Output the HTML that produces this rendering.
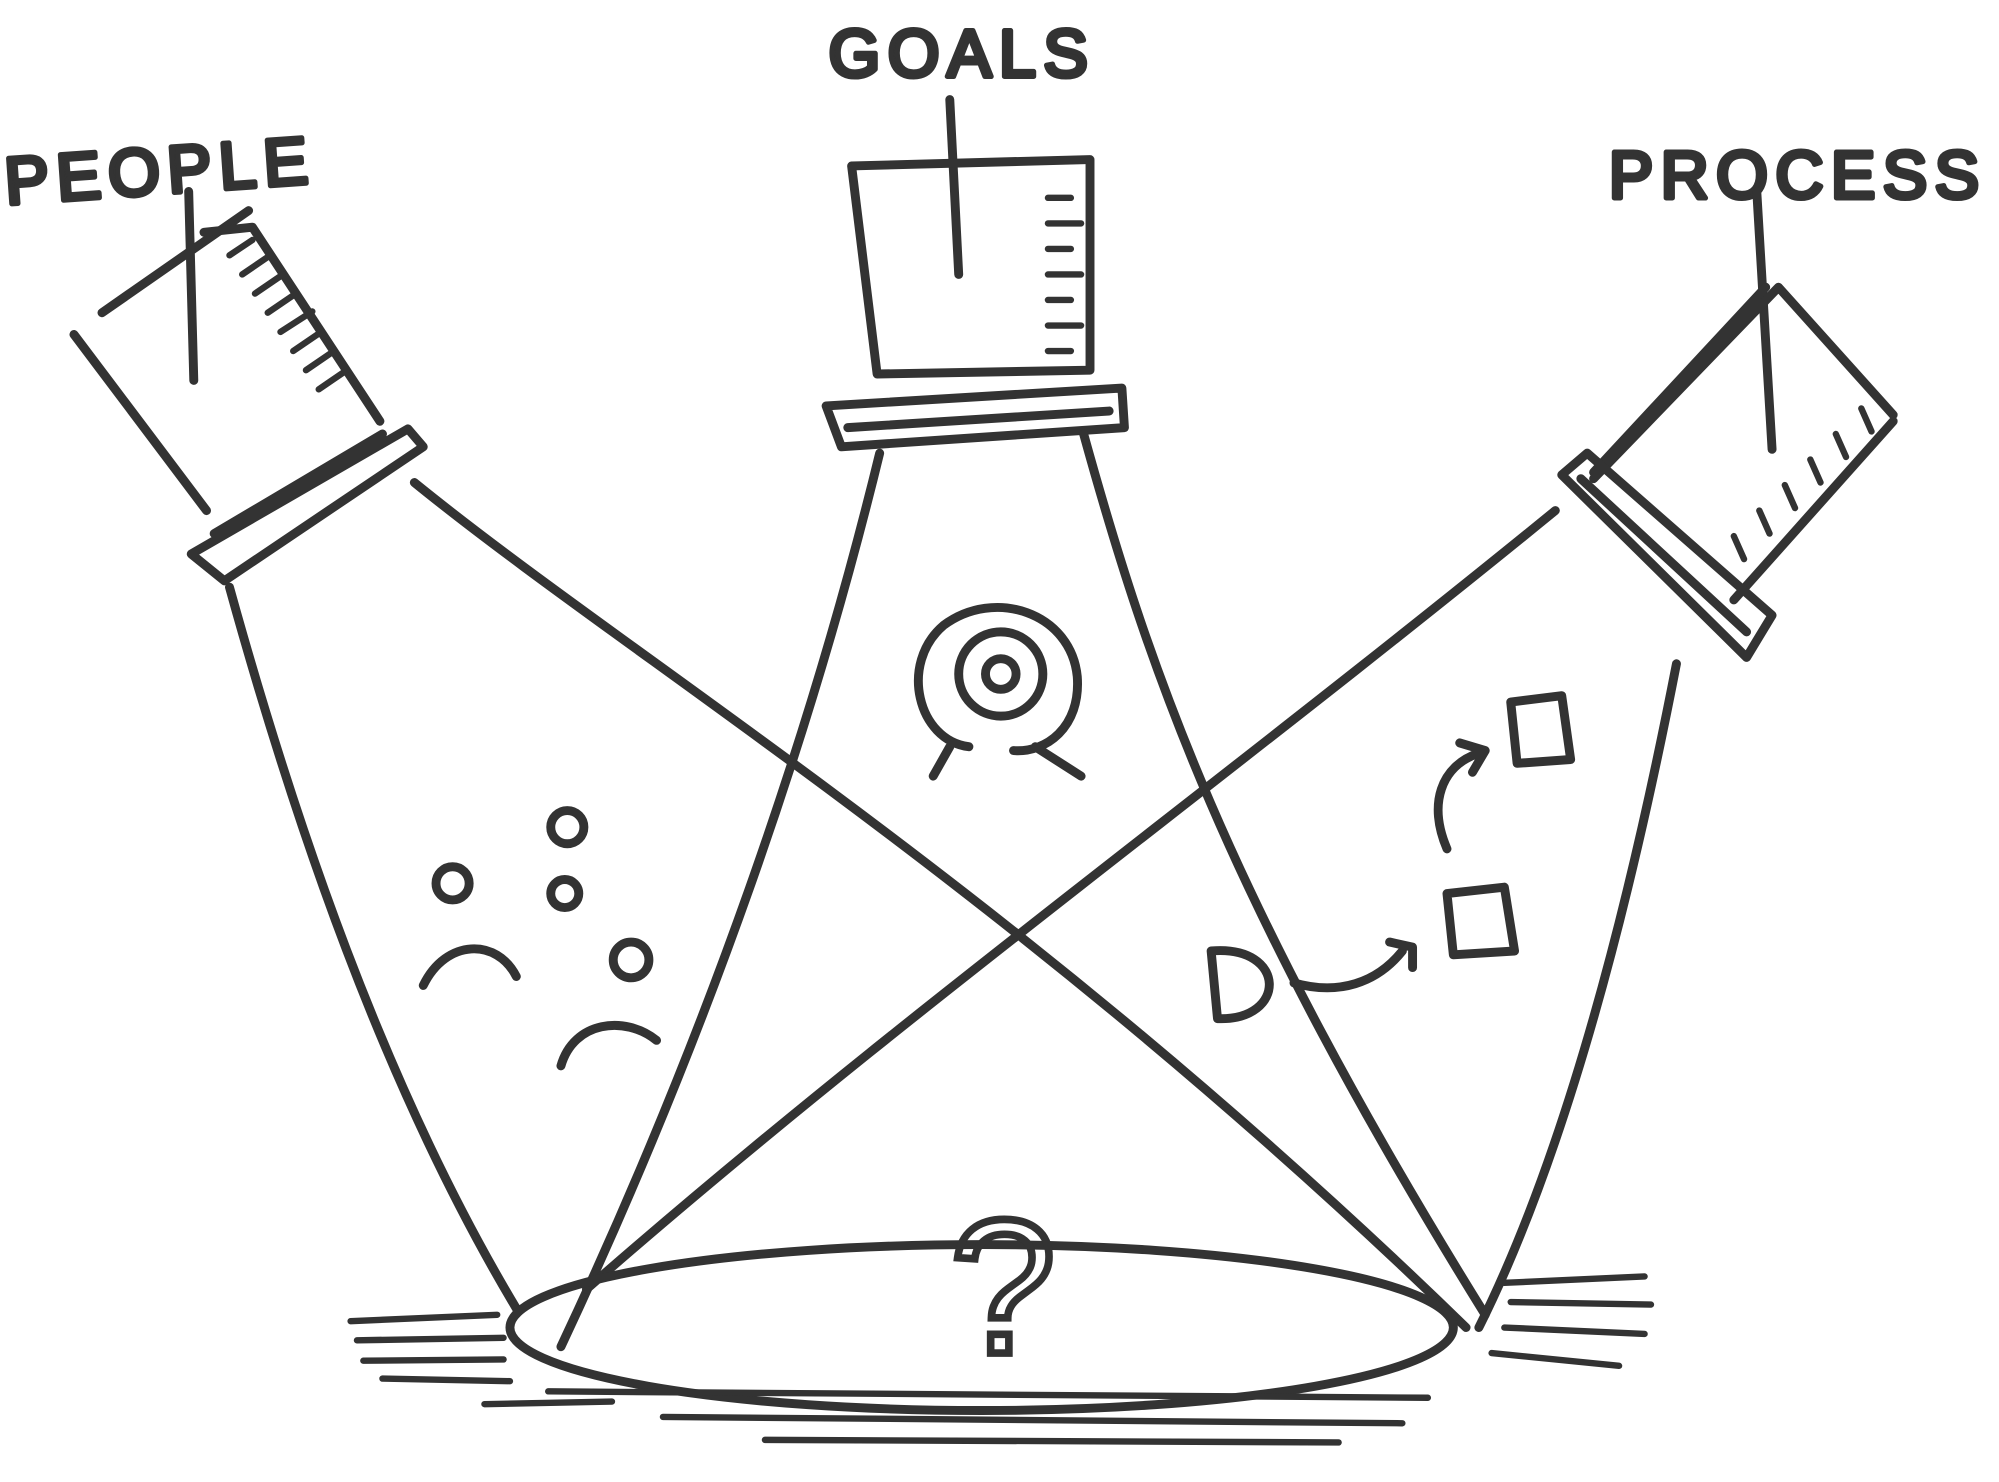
<!DOCTYPE html>
<html><head><meta charset="utf-8"><style>
html,body{margin:0;padding:0;background:#fff;}
svg{display:block;}
.s{fill:none;stroke:#333;stroke-width:7;stroke-linecap:round;stroke-linejoin:round;}
.t{fill:none;stroke:#333;stroke-width:5;stroke-linecap:round;}
.lbl{font-family:"Liberation Sans",sans-serif;font-size:52px;fill:#333;stroke:#333;stroke-width:4;stroke-linejoin:round;letter-spacing:6px;}
</style></head><body>
<svg width="1999" height="1482" viewBox="0 0 1568 1161" preserveAspectRatio="none">
<g>
<text class="lbl" x="5" y="160" transform="rotate(-4 5 160)">PEOPLE</text>
<text class="lbl" x="650" y="60">GOALS</text>
<text class="lbl" x="1262" y="155">PROCESS</text>
</g>
<g>
<path class="s" d="M148,150 L152,298 M80,245 L195,165"/>
<path class="s" d="M58,262 L162,400 M198,178 L298,330 M160,182 L198,178"/>
<path class="s" d="M150,434 L320,336 L332,350 L176,455 Z M168,418 L300,340"/>
<path class="t" d="M180,200 L198,188 M190,215 L212,200 M200,230 L222,215 M210,245 L232,230 M220,260 L245,244 M230,275 L252,260 M240,290 L262,275 M250,305 L272,290"/>
<path class="s" d="M180,460 C230,640 300,850 405,1025 M325,378 C500,520 800,700 1150,1040"/>
</g>
<g>
<path class="s" d="M745,78 L752,215"/>
<path class="s" d="M668,130 L855,125 L855,290 L688,293 Z"/>
<path class="s" d="M648,318 L880,304 L882,335 L660,350 Z M665,335 L870,322"/>
<path class="t" d="M822,155 L840,155 M822,175 L848,175 M822,195 L840,195 M822,215 L848,215 M822,235 L840,235 M822,255 L848,255 M822,275 L840,275"/>
<path class="s" d="M690,355 C640,560 560,800 440,1055 M850,340 C900,520 960,700 1165,1030"/>
<circle class="s" cx="785" cy="528" r="12"/>
<circle class="s" cx="785" cy="528" r="33"/>
<path class="s" d="M760,585 C720,580 705,520 740,490 C780,460 840,480 845,530 C848,570 820,590 795,588 M745,585 L732,608 M812,585 L848,608"/>
</g>
<g>
<path class="s" d="M1378,150 L1390,352"/>
<path class="s" d="M1250,375 L1395,225 L1485,325 M1385,225 L1250,370 M1360,470 L1485,330"/>
<path class="s" d="M1225,372 L1245,355 L1390,482 L1370,515 Z M1240,375 L1370,495"/>
<path class="t" d="M1460,320 L1468,338 M1440,340 L1448,358 M1420,360 L1428,378 M1400,380 L1408,398 M1380,400 L1388,418 M1360,420 L1368,438"/>
<path class="s" d="M1220,400 C950,620 700,800 460,1010 M1315,520 C1280,700 1230,900 1160,1040"/>
<path class="s" d="M1185,550 L1225,545 L1232,595 L1190,598 Z M1135,700 L1180,695 L1188,745 L1140,748 Z M950,745 C1010,740 1010,800 955,798 Z"/>
<path class="s" d="M1135,665 C1120,630 1130,600 1160,590 M1145,582 L1165,588 L1155,605 M1015,770 C1050,780 1080,770 1100,745 M1090,738 L1108,742 L1108,758"/>
</g>
<g>
<circle class="s" cx="355" cy="692" r="13"/>
<circle class="s" cx="445" cy="648" r="13"/>
<circle class="s" cx="443" cy="700" r="11"/>
<circle class="s" cx="495" cy="752" r="14"/>
<path class="s" d="M332,772 C350,735 390,735 405,765 M440,835 C450,800 490,795 515,815"/>
</g>
<g>
<ellipse class="s" cx="770" cy="1040" rx="370" ry="65"/>
<path class="t" d="M275,1035 L390,1030 M280,1050 L395,1048 M285,1066 L395,1065 M300,1080 L400,1082 M1180,1005 L1290,1000 M1185,1020 L1295,1022 M1180,1040 L1290,1045 M1170,1060 L1270,1070 M430,1090 L1120,1095 M520,1110 L1100,1115 M600,1128 L1050,1130 M380,1100 L480,1098"/>
<text x="745" y="1060" font-family="Liberation Sans, sans-serif" font-size="150" fill="none" stroke="#333" stroke-width="6">?</text>
</g>
</svg>
</body></html>
